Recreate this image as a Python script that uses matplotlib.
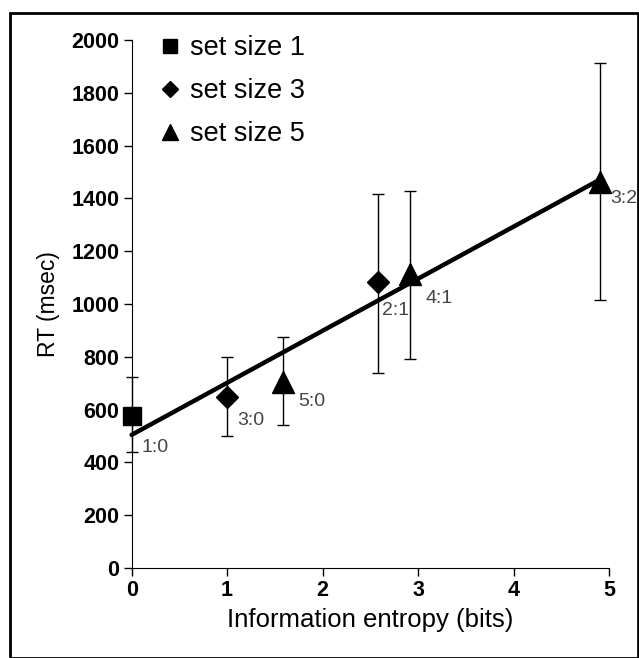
import numpy as np
import matplotlib
matplotlib.use("Agg")
import matplotlib.pyplot as plt
from matplotlib.patches import Rectangle

plt.rcParams['font.family'] = ['Liberation Sans', 'DejaVu Sans']

# set size 1
ss1_x = [0.0]
ss1_rt = [575]
ss1_lo = [440]
ss1_hi = [725]
ss1_lab = ["1:0"]

# set size 3
ss3_x = [1.0, 2.585]
ss3_rt = [648, 1083]
ss3_lo = [498, 739]
ss3_hi = [798, 1415]
ss3_lab = ["3:0", "2:1"]

# set size 5
ss5_x = [1.585, 2.92, 4.91]
ss5_rt = [705, 1115, 1462]
ss5_lo = [540, 792, 1015]
ss5_hi = [874, 1430, 1915]
ss5_lab = ["5:0", "4:1", "3:2"]

xticks = [0, 1, 2, 3, 4, 5]
yticks = [0, 200, 400, 600, 800, 1000, 1200, 1400, 1600, 1800, 2000]

fig = plt.figure(figsize=(6.39, 6.58), dpi=100)
ax = fig.add_axes([0.206, 0.137, 0.747, 0.802])

series = [
    (ss1_x, ss1_rt, ss1_lo, ss1_hi, 's', 13, "set size 1"),
    (ss3_x, ss3_rt, ss3_lo, ss3_hi, 'D', 11, "set size 3"),
    (ss5_x, ss5_rt, ss5_lo, ss5_hi, '^', 16, "set size 5"),
]
for xs, ys, lo, hi, mk, ms, name in series:
    ys = np.array(ys)
    err = [ys - np.array(lo), np.array(hi) - ys]
    eb = ax.errorbar(xs, ys, yerr=err, fmt='none', ecolor='black', elinewidth=1,
                     capsize=4, capthick=1, zorder=2)
    for art in eb.lines[1] + eb.lines[2]:
        art.set_clip_on(False)
    ax.plot(xs, ys, linestyle='none', marker=mk, markersize=ms, color='black',
            zorder=3, label=name, clip_on=False)

# linear fit over all points
all_x = np.array(ss1_x + ss3_x + ss5_x)
all_y = np.array(ss1_rt + ss3_rt + ss5_rt)
slope, icpt = np.polyfit(all_x, all_y, 1)
fx = np.array([all_x.min(), all_x.max()])
ax.plot(fx, icpt + slope * fx, color='black', linewidth=3.2, zorder=4,
        solid_capstyle='round', clip_on=False)

# ratio labels
labels = ss1_lab + ss3_lab + ss5_lab
offsets = [(10, -31), (10, -24), (4, -28), (15, -20), (15, -25), (10, -16)]
for x, y, t, off in zip(all_x, all_y, labels, offsets):
    ax.annotate(t, (x, y), xytext=off, textcoords='offset pixels',
                fontsize=14, color='#444444', va='center', ha='left')

ax.set_xlim(0, 5)
ax.set_ylim(0, 2000)
ax.set_xticks(xticks)
ax.set_yticks(yticks)
ax.spines['top'].set_visible(False)
ax.spines['right'].set_visible(False)
ax.tick_params(direction='out', length=6, width=1, labelsize=15.5, pad=3)
for lab in ax.get_xticklabels() + ax.get_yticklabels():
    lab.set_fontweight('bold')
ax.set_xlabel("Information entropy (bits)", fontsize=18.5, labelpad=5)
ax.set_ylabel("RT (msec)", fontsize=16.5, labelpad=8)

ax.legend(loc='upper left', bbox_to_anchor=(0.0, 1.055), frameon=False,
          fontsize=19.5, handletextpad=0.25, labelspacing=0.62, markerscale=0.75,
          handlelength=1.0)

# outer frame
fig.patches.append(Rectangle((0.016, 0.0), 0.982, 0.981, transform=fig.transFigure,
                             fill=False, edgecolor='black', linewidth=2))

fig.savefig("out.png", dpi=100)
